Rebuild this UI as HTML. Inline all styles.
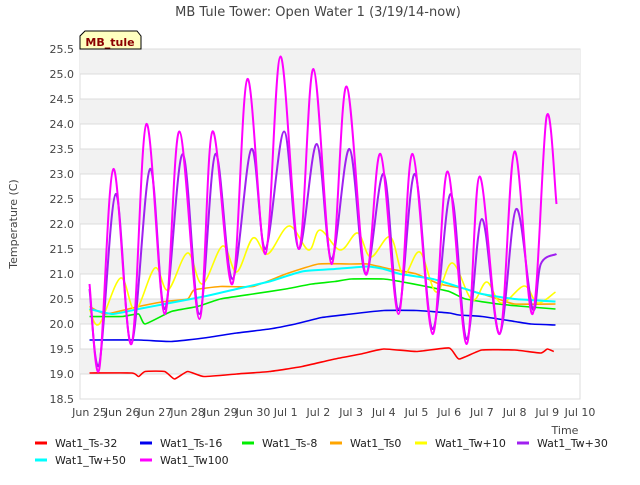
<!DOCTYPE html>
<html><head><meta charset="utf-8"><style>
body{margin:0;background:#fff;font-family:"Liberation Sans","DejaVu Sans",sans-serif}
svg text{font-family:"DejaVu Sans","Liberation Sans",sans-serif}
</style></head><body>
<svg id="c" width="640" height="480" xmlns="http://www.w3.org/2000/svg"></svg>
<script>
const xTickLabels=["Jun 25","Jun 26","Jun 27","Jun 28","Jun 29","Jun 30","Jul 1","Jul 2","Jul 3","Jul 4","Jul 5","Jul 6","Jul 7","Jul 8","Jul 9","Jul 10"];
const yTicks=[18.5,19.0,19.5,20.0,20.5,21.0,21.5,22.0,22.5,23.0,23.5,24.0,24.5,25.0,25.5];
const seriesNames=["Wat1_Ts-32","Wat1_Ts-16","Wat1_Ts-8","Wat1_Ts0","Wat1_Tw+10","Wat1_Tw+30","Wat1_Tw+50","Wat1_Tw100"];
const seriesColors=["#ff0000","#0000ee","#00ee00","#ffa500","#ffff00","#a020f0","#00ffff","#ff00ff"];
const ts32Days=[0,1.3,1.5,1.7,2.3,2.6,3.0,3.5,4.5,5.5,6.5,7.5,8.3,9.0,10.0,11.0,11.3,12.0,13.0,13.8,14.0,14.2];
const ts32Vals=[19.02,19.02,18.95,19.05,19.05,18.9,19.05,18.95,19.0,19.05,19.15,19.3,19.4,19.5,19.45,19.52,19.3,19.48,19.48,19.42,19.5,19.45];
const ts16Days=[0,1.5,2.5,3.5,4.5,5.5,6.3,7.1,8.0,9.0,10.0,11.0,11.3,12.0,13.0,13.5,14.25];
const ts16Vals=[19.68,19.68,19.65,19.72,19.82,19.9,20.0,20.13,20.2,20.27,20.27,20.22,20.18,20.15,20.05,20.0,19.98];
const ts8Days=[0,1,1.5,1.7,2.5,3.3,4.0,5.0,6.0,6.8,7.5,8.0,9.0,9.5,10.3,11.0,11.5,12.5,13.3,14.25];
const ts8Vals=[20.15,20.15,20.2,20.0,20.25,20.35,20.5,20.6,20.7,20.8,20.85,20.9,20.9,20.85,20.75,20.65,20.5,20.4,20.35,20.3];
const ts0Days=[0,0.5,1.5,2.3,3.0,3.2,4.0,5.0,6.0,7.0,8.0,8.5,9.2,10,10.7,11.5,12.5,13,14.25];
const ts0Vals=[20.35,20.2,20.35,20.45,20.5,20.68,20.75,20.75,21.0,21.2,21.2,21.2,21.1,21.0,20.8,20.7,20.5,20.4,20.4];
const tw10Days=[0,0.3,0.95,1.4,2.0,2.4,3.0,3.45,4.07,4.5,5.0,5.45,6.1,6.7,7.05,7.67,8.2,8.6,9.2,9.6,10.1,10.6,11.1,11.7,12.15,12.6,13.3,13.7,14.25];
const tw10Vals=[20.3,20.0,20.92,20.28,21.12,20.68,21.42,20.8,21.56,21.04,21.72,21.4,21.96,21.48,21.88,21.48,21.82,21.34,21.74,20.98,21.44,20.64,21.22,20.48,20.84,20.42,20.76,20.42,20.64];
const tw30Days=[0,0.3,0.8,1.28,1.85,2.3,2.85,3.36,3.85,4.37,4.95,5.38,5.95,6.4,6.95,7.4,7.95,8.44,9.0,9.45,9.95,10.49,11.05,11.53,12.0,12.54,13.05,13.55,13.8,14.28];
const tw30Vals=[20.7,19.2,22.6,19.6,23.1,20.3,23.4,20.2,23.4,20.9,23.5,21.5,23.85,21.5,23.6,21.3,23.5,21.0,23.0,20.3,23.0,19.9,22.6,19.7,22.1,19.8,22.3,20.3,21.2,21.4];
const tw50Days=[0,0.7,1.5,2.3,3.5,4.5,5.5,6.5,7.5,8.5,9.0,9.5,10.5,11.5,12,13,14.25];
const tw50Vals=[20.3,20.2,20.3,20.4,20.55,20.7,20.85,21.05,21.1,21.15,21.1,21.0,20.9,20.7,20.6,20.5,20.45];
const tw100Days=[0,0.3,0.73,1.28,1.74,2.3,2.75,3.36,3.76,4.37,4.83,5.38,5.84,6.4,6.85,7.4,7.86,8.44,8.9,9.45,9.88,10.49,10.95,11.53,11.93,12.54,13.0,13.55,13.98,14.28];
const tw100Vals=[20.8,19.1,23.1,19.6,24.0,20.2,23.85,20.1,23.85,20.8,24.9,21.4,25.35,21.5,25.1,21.2,24.75,21.0,23.4,20.2,23.4,19.8,23.05,19.6,22.95,19.8,23.45,20.2,24.15,22.4];
const allDays=[ts32Days,ts16Days,ts8Days,ts0Days,tw10Days,tw30Days,tw50Days,tw100Days];
const allVals=[ts32Vals,ts16Vals,ts8Vals,ts0Vals,tw10Vals,tw30Vals,tw50Vals,tw100Vals];

const svg=document.getElementById('c');const NS="http://www.w3.org/2000/svg";
const L=80,R=580,T=49,B=399;
const X=d=>89.5+d*(R-89.5)/15;
const Y=v=>T+(25.5-v)*(B-T)/7;
function el(t,a,p){const e=document.createElementNS(NS,t);for(const k in a)e.setAttribute(k,a[k]);(p||svg).appendChild(e);return e;}
function tx(s,a){const e=el('text',a);e.textContent=s;return e;}
function smoothPath(P,k){
 let d='M'+P[0][0].toFixed(1)+','+P[0][1].toFixed(1);
 for(let i=0;i<P.length-1;i++){
  const p0=P[Math.max(0,i-1)],p1=P[i],p2=P[i+1],p3=P[Math.min(P.length-1,i+2)];
  const c1=[p1[0]+(p2[0]-p0[0])*k,p1[1]+(p2[1]-p0[1])*k];
  const c2=[p2[0]-(p3[0]-p1[0])*k,p2[1]-(p3[1]-p1[1])*k];
  d+=' C'+c1.map(v=>v.toFixed(1)).join(',')+' '+c2.map(v=>v.toFixed(1)).join(',')+' '+p2[0].toFixed(1)+','+p2[1].toFixed(1);
 }
 return d;
}
const bg=el('rect',{x:L,y:T,width:R-L,height:B-T,fill:'#fff',stroke:'#ddd'});


for(let i=0;i<yTicks.length-1;i++){
 const v=yTicks[i];
 if(Math.round(v*2)%2===0){const b=el('rect',{x:L,y:Y(v+0.5),width:R-L,height:Y(v)-Y(v+0.5),fill:'#f2f2f2'});
 
 }
}
yTicks.forEach(v=>{
 const g=el('line',{x1:L,x2:R,y1:Y(v),y2:Y(v),stroke:'#dcdcdc','stroke-width':1});
 
 
 const t=tx(v.toFixed(1),{x:L-6,y:Y(v)+4,'text-anchor':'end','font-size':11,fill:'#444'});
 
 
});
xTickLabels.forEach((s,i)=>{
 const t=tx(s,{x:X(i),y:416,'text-anchor':'middle','font-size':11,fill:'#444'});
 
 
});
const xt=tx('Time',{x:565,y:434,'text-anchor':'middle','font-size':11,fill:'#444'});


const yt=tx('Temperature (C)',{x:0,y:0,transform:'translate(17,224) rotate(-90)','text-anchor':'middle','font-size':11,fill:'#444'});


const ti=tx('MB Tule Tower: Open Water 1 (3/19/14-now)',{x:318,y:16,'text-anchor':'middle','font-size':13,fill:'#444'});


const order=[0,1,2,3,4,6,5,7];
order.forEach(i=>{
 const P=allDays[i].map((d,j)=>[X(d),Y(allVals[i][j])]);
 const p=el('path',{d:smoothPath(P,(i===4||i===5||i===7)?0.17:0.08),fill:'none',stroke:seriesColors[i],'stroke-width':i>=5?2:1.6,'stroke-linejoin':'round'});
 
 
});
const bd=el('path',{d:'M80,49 L80,36 L85,31 L137,31 L141,36 L141,49 Z',fill:'#ffffc0',stroke:'#000','stroke-width':1});


const bt=tx('MB_tule',{x:110,y:46,'text-anchor':'middle','font-size':11,'font-weight':'bold',fill:'#8b0000'});


const lx=[35,140,242,330,415,517,35,140],ly=[443,443,443,443,443,443,460,460];
seriesNames.forEach((n,i)=>{
 const g=el('g',{});
 
 
 el('line',{x1:lx[i],x2:lx[i]+12,y1:ly[i],y2:ly[i],stroke:seriesColors[i],'stroke-width':3},g);
 const t=el('text',{x:lx[i]+20,y:ly[i]+4,'font-size':11,fill:'#222'},g);t.textContent=n;
});
</script>
</body></html>
